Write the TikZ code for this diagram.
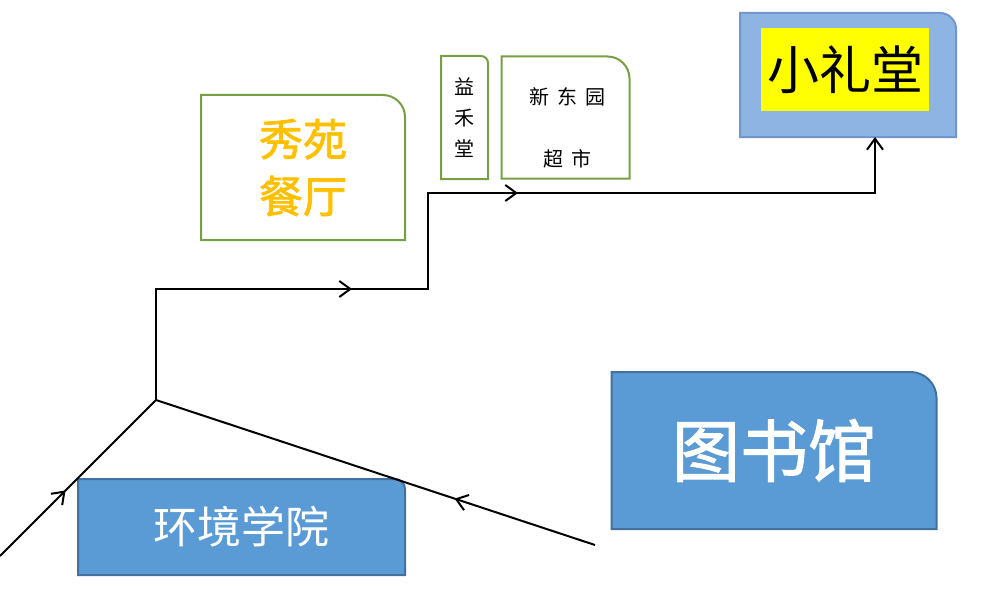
\documentclass[tikz,border=0pt]{standalone}
\usepackage{fontspec}
\newfontfamily\cjk{Noto Sans CJK SC}
\newfontfamily\cjkmed[FakeBold=1.6]{Noto Sans CJK SC}
\newfontfamily\cjkwide[LetterSpace=40]{Noto Sans CJK SC}
\usetikzlibrary{arrows.meta,decorations.markings}
\definecolor{blueA}{HTML}{5B9BD5}
\definecolor{blueB}{HTML}{41719C}
\definecolor{lblue}{HTML}{8EB4E3}
\definecolor{lblueB}{HTML}{7096CE}
\definecolor{greenB}{HTML}{77A045}
\definecolor{orangeT}{HTML}{FFC000}
\definecolor{yellowF}{HTML}{FFFF00}
\pgfdeclarelayer{bg}
\pgfsetlayers{bg,main}
\newcommand\trbox[3]{%
  \path[#3] (#1.south west) -- (#1.north west) -- ([xshift=-#2]#1.north east)
    .. controls ([xshift=-0.45*#2]#1.north east) and ([yshift=-0.45*#2]#1.north east)
    .. ([yshift=-#2]#1.north east) -- (#1.south east) -- cycle;}
\tikzset{
  holder/.style={inner sep=0pt, outer sep=0pt},
  bluebox/.style={fill=blueA, draw=blueB, line width=2pt},
  greenbox/.style={fill=white, draw=greenB, line width=2pt},
  lightbox/.style={fill=lblue, draw=lblueB, line width=2pt},
  conn/.style={line width=2pt, black, line join=miter},
  barb/.tip={Straight Barb[length=11pt,width=16pt,line width=2pt]},
  midarrow/.style={postaction={decorate, decoration={markings,
     mark=at position #1 with {\arrow{barb}}}}},
}
\begin{document}
\begin{tikzpicture}[x=1pt,y=-1pt]
\useasboundingbox (0,0) rectangle (994,610);
% nodes
\node[holder, minimum width=327pt, minimum height=96pt, text=white,
      font=\cjk\fontsize{44}{50}\selectfont] (hj) at (241.5,527) {环境学院};
\node[holder, minimum width=325pt, minimum height=157pt, text=white,
      font=\cjkmed\fontsize{68}{75}\selectfont] (tsg) at (774,450.5) {图书馆};
\node[holder, minimum width=204pt, minimum height=145pt, text=orangeT, align=center,
      font=\cjkmed\fontsize{44}{57}\selectfont] (xy) at (303,167.5) {秀苑\\餐厅};
\node[holder, minimum width=47pt, minimum height=123pt, align=center,
      font=\cjk\fontsize{20}{31}\selectfont] (yht) at (464.5,117.5) {益\\禾\\堂};
\node[holder, minimum width=128pt, minimum height=122pt] (xdy) at (565.5,117.5) {};
\node[font=\cjkwide\fontsize{20}{24}\selectfont] (xdyt1) at ([yshift=-40pt,xshift=2pt]xdy.north) {新东园};
\node[font=\cjkwide\fontsize{20}{24}\selectfont] (xdyt2) at ([yshift=-102pt,xshift=2pt]xdy.north) {超市};
\node[holder, minimum width=216pt, minimum height=124pt] (slt) at (848,75) {};
\node[holder, fill=yellowF, minimum width=168pt, minimum height=83pt,
      font=\cjk\fontsize{52}{60}\selectfont] (ylt) at (845,69.5) {小礼堂};
% box outlines
\begin{pgfonlayer}{bg}
\trbox{hj}{10pt}{bluebox}
\trbox{tsg}{26pt}{bluebox}
\trbox{xy}{22pt}{greenbox}
\trbox{yht}{7pt}{greenbox}
\trbox{xdy}{22pt}{greenbox}
\trbox{slt}{16pt}{lightbox}
\end{pgfonlayer}
% connectors
\coordinate (p0) at (0,556);
\coordinate (j) at (156,400);
\coordinate (p2) at (595,545);
\coordinate (c1) at (156,289);
\coordinate (c2) at (428,289);
\coordinate (c3) at (428,193);
\coordinate (c4) at (875,193);
\coordinate (c5) at (slt.south -| c4);
\draw[conn, midarrow=0.42] (p0) -- (j);
\draw[conn, midarrow=0.32] (p2) -- (j);
\draw[conn, -{barb}, postaction={decorate, decoration={markings,
     mark=at position 307pt with {\arrow{barb}},
     mark=at position 569pt with {\arrow{barb}}}}]
  (j) -- (c1) -- (c2) -- (c3) -- (c4) -- (c5);
\end{tikzpicture}
\end{document}
